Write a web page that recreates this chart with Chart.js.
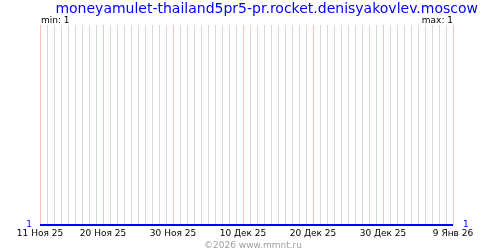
<!DOCTYPE html>
<html lang="ru">
<head>
  <meta charset="UTF-8">
  <title>moneyamulet-thailand5pr5-pr.rocket.denisyakovlev.moscow</title>
  <script src="https://cdn.jsdelivr.net/npm/chart.js"></script>
  <style>
    html, body { margin: 0; padding: 0; background: #fff; }
    #wrap { width: 500px; height: 250px; }
  </style>
</head>
<body>
  <div id="wrap"><canvas id="chart" width="500" height="250"></canvas></div>
  <script>
    // данные: один пункт в день, с 11 Ноя 25 по 9 Янв 26
    const chartTitle = 'moneyamulet-thailand5pr5-pr.rocket.denisyakovlev.moscow';
    const values = [
      1, 1, 1, 1, 1, 1, 1, 1, 1, 1,
      1, 1, 1, 1, 1, 1, 1, 1, 1, 1,
      1, 1, 1, 1, 1, 1, 1, 1, 1, 1,
      1, 1, 1, 1, 1, 1, 1, 1, 1, 1,
      1, 1, 1, 1, 1, 1, 1, 1, 1, 1,
      1, 1, 1, 1, 1, 1, 1, 1, 1, 1
    ];
    const tickDays = [0, 9, 19, 29, 39, 49, 59];
    const tickLabels = ['11 Ноя 25', '20 Ноя 25', '30 Ноя 25', '10 Дек 25', '20 Дек 25', '30 Дек 25', '9 Янв 26'];
    const minLabel = 'min: 1';
    const maxLabel = 'max: 1';
    const copyright = '©2026 www.mmnt.ru';

    const smallFont = { family: 'DejaVu Sans', size: 9 };

    // подписи сверху и снизу
    const textPlugin = {
      id: 'texts',
      afterDraw(chart) {
        const ctx = chart.ctx;
        const a = chart.chartArea;
        ctx.save();
        ctx.textBaseline = 'alphabetic';
        ctx.fillStyle = '#0000ff';
        ctx.font = '14px "DejaVu Sans"';
        ctx.textAlign = 'right';
        ctx.fillText(chartTitle, 478, 13);
        ctx.fillStyle = '#000';
        ctx.font = '9px "DejaVu Sans"';
        ctx.textAlign = 'left';
        ctx.fillText(minLabel, a.left + 1, 23);
        ctx.textAlign = 'right';
        ctx.fillText(maxLabel, a.right, 23);
        ctx.fillStyle = '#a0a0a0';
        ctx.textAlign = 'center';
        ctx.fillText(copyright, 253, 248);
        ctx.restore();
      }
    };

    const yTicks = {
      stepSize: 1,
      color: '#0000ff',
      font: smallFont,
      callback: v => (v === 1 ? '1' : '')
    };

    new Chart(document.getElementById('chart'), {
      type: 'line',
      data: {
        datasets: [{
          data: values.map((v, i) => ({ x: i, y: v })),
          borderColor: '#0000ff',
          borderWidth: 2,
          pointRadius: 0,
          fill: false,
          clip: false
        }]
      },
      options: {
        responsive: false,
        animation: false,
        events: [],
        layout: { padding: { top: 25, left: 0, right: 0, bottom: 0 } },
        plugins: { legend: { display: false }, tooltip: { enabled: false } },
        scales: {
          x: {
            type: 'linear',
            min: 0,
            max: values.length - 1,
            afterFit: s => { s.height = 25; },
            border: { display: false },
            grid: {
              drawTicks: false,
              color: c => (tickDays.includes(c.tick.value) ? '#ffc0c0' : '#d8d8d8')
            },
            ticks: {
              stepSize: 1,
              autoSkip: false,
              maxRotation: 0,
              padding: 3,
              color: '#000',
              font: smallFont,
              callback: v => {
                const k = tickDays.indexOf(v);
                return k >= 0 ? tickLabels[k] : '';
              }
            }
          },
          y: {
            position: 'left',
            min: 1,
            max: 2,
            afterFit: s => { s.width = 40; },
            border: { display: false },
            grid: { display: false, drawTicks: false },
            ticks: Object.assign({ padding: 8 }, yTicks)
          },
          y2: {
            position: 'right',
            min: 1,
            max: 2,
            afterFit: s => { s.width = 47; },
            border: { display: false },
            grid: { display: false, drawTicks: false },
            ticks: Object.assign({ padding: 10 }, yTicks)
          }
        }
      },
      plugins: [textPlugin]
    });
  </script>
</body>
</html>
